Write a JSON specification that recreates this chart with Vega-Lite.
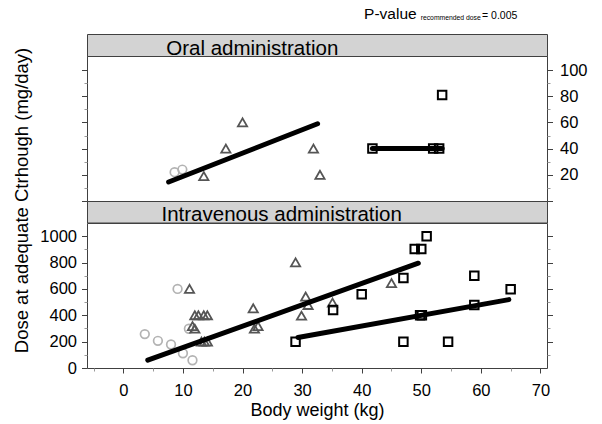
{
  "$schema": "https://vega.github.io/schema/vega-lite/v6.json",
  "padding": {"left": 11, "top": 6, "right": 5, "bottom": 5},
  "spacing": 0,
  "bounds": "flush",
  "config": {
    "font": "Liberation Sans",
    "view": {"stroke": "#404040"},
    "axis": {"grid": false, "domain": false, "labelFont": "Liberation Sans", "labelFontSize": 16.5, "labelColor": "#000", "tickColor": "#404040", "titleFont": "Liberation Sans", "titleFontWeight": "normal", "titleColor": "#000"},
    "text": {"font": "Liberation Sans", "color": "#000"}
  },
  "datasets": {
    "points": [
      {"route": "Oral", "group": "G1", "weight": 8.6, "dose": 22},
      {"route": "Oral", "group": "G1", "weight": 9.9, "dose": 24},
      {"route": "Oral", "group": "G2", "weight": 13.5, "dose": 19},
      {"route": "Oral", "group": "G2", "weight": 17.2, "dose": 40},
      {"route": "Oral", "group": "G2", "weight": 20.0, "dose": 60},
      {"route": "Oral", "group": "G2", "weight": 31.9, "dose": 40},
      {"route": "Oral", "group": "G2", "weight": 33.0, "dose": 20},
      {"route": "Oral", "group": "G3", "weight": 41.8, "dose": 40},
      {"route": "Oral", "group": "G3", "weight": 52.0, "dose": 40},
      {"route": "Oral", "group": "G3", "weight": 53.0, "dose": 40},
      {"route": "Oral", "group": "G3", "weight": 53.5, "dose": 81},
      {"route": "IV", "group": "G1", "weight": 3.6, "dose": 257},
      {"route": "IV", "group": "G1", "weight": 5.8, "dose": 206},
      {"route": "IV", "group": "G1", "weight": 8.0, "dose": 178},
      {"route": "IV", "group": "G1", "weight": 9.1, "dose": 600},
      {"route": "IV", "group": "G1", "weight": 10.0, "dose": 112},
      {"route": "IV", "group": "G1", "weight": 11.0, "dose": 298},
      {"route": "IV", "group": "G1", "weight": 11.6, "dose": 59},
      {"route": "IV", "group": "G2", "weight": 11.1, "dose": 600},
      {"route": "IV", "group": "G2", "weight": 11.6, "dose": 318},
      {"route": "IV", "group": "G2", "weight": 12.0, "dose": 298},
      {"route": "IV", "group": "G2", "weight": 12.0, "dose": 400},
      {"route": "IV", "group": "G2", "weight": 12.6, "dose": 400},
      {"route": "IV", "group": "G2", "weight": 13.5, "dose": 400},
      {"route": "IV", "group": "G2", "weight": 14.1, "dose": 400},
      {"route": "IV", "group": "G2", "weight": 13.1, "dose": 200},
      {"route": "IV", "group": "G2", "weight": 13.6, "dose": 200},
      {"route": "IV", "group": "G2", "weight": 14.1, "dose": 200},
      {"route": "IV", "group": "G2", "weight": 21.8, "dose": 453},
      {"route": "IV", "group": "G2", "weight": 22.0, "dose": 298},
      {"route": "IV", "group": "G2", "weight": 22.6, "dose": 318},
      {"route": "IV", "group": "G2", "weight": 28.9, "dose": 801},
      {"route": "IV", "group": "G2", "weight": 29.9, "dose": 397},
      {"route": "IV", "group": "G2", "weight": 30.6, "dose": 542},
      {"route": "IV", "group": "G2", "weight": 31.0, "dose": 478},
      {"route": "IV", "group": "G2", "weight": 35.1, "dose": 496},
      {"route": "IV", "group": "G2", "weight": 45.0, "dose": 644},
      {"route": "IV", "group": "G3", "weight": 28.9, "dose": 200},
      {"route": "IV", "group": "G3", "weight": 35.2, "dose": 440},
      {"route": "IV", "group": "G3", "weight": 40.0, "dose": 560},
      {"route": "IV", "group": "G3", "weight": 47.0, "dose": 682},
      {"route": "IV", "group": "G3", "weight": 47.0, "dose": 200},
      {"route": "IV", "group": "G3", "weight": 48.9, "dose": 903},
      {"route": "IV", "group": "G3", "weight": 50.0, "dose": 903},
      {"route": "IV", "group": "G3", "weight": 50.9, "dose": 1000},
      {"route": "IV", "group": "G3", "weight": 49.8, "dose": 400},
      {"route": "IV", "group": "G3", "weight": 50.1, "dose": 400},
      {"route": "IV", "group": "G3", "weight": 54.5, "dose": 200},
      {"route": "IV", "group": "G3", "weight": 58.9, "dose": 700},
      {"route": "IV", "group": "G3", "weight": 58.9, "dose": 478},
      {"route": "IV", "group": "G3", "weight": 65.0, "dose": 598}
    ],
    "fits": [
      {"route": "Oral", "fit": "G1-G2", "weight": 7.6, "dose": 14.5},
      {"route": "Oral", "fit": "G1-G2", "weight": 32.6, "dose": 59},
      {"route": "Oral", "fit": "G3", "weight": 41.8, "dose": 40},
      {"route": "Oral", "fit": "G3", "weight": 53.5, "dose": 40},
      {"route": "IV", "fit": "G1-G2", "weight": 4.1, "dose": 59},
      {"route": "IV", "fit": "G1-G2", "weight": 49.5, "dose": 795},
      {"route": "IV", "fit": "G3", "weight": 29.3, "dose": 232},
      {"route": "IV", "fit": "G3", "weight": 64.7, "dose": 519}
    ]
  },
  "vconcat": [
    {
      "width": 460, "height": 22,
      "view": {"fill": "#d3d3d3", "stroke": "#404040"},
      "data": {"values": [{"strip": "Oral administration"}]},
      "layer": [
        {"mark": {"type": "text", "align": "left", "baseline": "alphabetic", "fontSize": 20.5, "dy": 9.5},
         "encoding": {"x": {"datum": 7.2, "type": "quantitative", "scale": {"domain": [-6.1, 71.1], "nice": false, "zero": false}, "axis": null}, "text": {"field": "strip"}}},
        {"mark": {"type": "text", "align": "left", "baseline": "alphabetic", "fontSize": 15.5, "dy": -26},
         "encoding": {"x": {"datum": 40.4, "type": "quantitative"}, "text": {"value": "P-value"}}},
        {"mark": {"type": "text", "align": "left", "baseline": "alphabetic", "fontSize": 6.8, "dy": -25},
         "encoding": {"x": {"datum": 49.9, "type": "quantitative"}, "text": {"value": "recommended dose"}}},
        {"mark": {"type": "text", "align": "left", "baseline": "alphabetic", "fontSize": 10.5, "dy": -26},
         "encoding": {"x": {"datum": 60.2, "type": "quantitative"}, "text": {"value": "= 0.005"}}}
      ]
    },
    {
      "width": 460, "height": 145,
      "resolve": {"axis": {"x": "independent", "y": "independent"}},
      "layer": [
        {"data": {"name": "points"}, "transform": [{"filter": "datum.route === 'Oral' && datum.group === 'G1'"}],
         "mark": {"type": "point", "shape": "circle", "filled": false, "color": "#b3b3b3", "strokeWidth": 1.7, "size": 75, "opacity": 1},
         "encoding": {
           "x": {"field": "weight", "type": "quantitative", "scale": {"domain": [-6.1, 71.1], "nice": false, "zero": false}, "axis": null},
           "y": {"field": "dose", "type": "quantitative", "scale": {"domain": [0, 110.7], "nice": false, "zero": false}, "axis": {"orient": "left", "values": [0, 20, 40, 60, 80, 100], "labels": false, "tickSize": 5.5, "title": null}}}},
        {"data": {"name": "points"}, "transform": [{"filter": "datum.route === 'Oral' && datum.group === 'G2'"}],
         "mark": {"type": "point", "shape": "triangle-up", "filled": false, "color": "#555555", "strokeWidth": 1.8, "size": 85, "opacity": 1},
         "encoding": {
           "x": {"field": "weight", "type": "quantitative", "axis": null},
           "y": {"field": "dose", "type": "quantitative", "axis": {"orient": "left", "values": [10, 30, 50, 70, 90], "labels": false, "tickSize": 3, "tickColor": "#999999", "title": null}}}},
        {"data": {"name": "points"}, "transform": [{"filter": "datum.route === 'Oral' && datum.group === 'G3'"}],
         "mark": {"type": "point", "shape": "square", "filled": false, "color": "#000000", "strokeWidth": 2, "size": 72, "opacity": 1},
         "encoding": {
           "x": {"field": "weight", "type": "quantitative", "axis": null},
           "y": {"field": "dose", "type": "quantitative", "axis": {"orient": "right", "values": [0, 20, 40, 60, 80, 100], "labelExpr": "datum.value === 0 ? '' : datum.label", "tickSize": 5.5, "labelPadding": 7, "title": null}}}},
        {"data": {"name": "fits"}, "transform": [{"filter": "datum.route === 'Oral'"}],
         "mark": {"type": "line", "strokeWidth": 5, "strokeCap": "round", "color": "#000000"},
         "encoding": {
           "x": {"field": "weight", "type": "quantitative", "axis": null},
           "y": {"field": "dose", "type": "quantitative", "axis": {"orient": "right", "values": [10, 30, 50, 70, 90], "labels": false, "tickSize": 3, "tickColor": "#999999", "title": null}},
           "detail": {"field": "fit"}}}
      ]
    },
    {
      "width": 460, "height": 21.5,
      "view": {"fill": "#d3d3d3", "stroke": "#404040"},
      "data": {"values": [{"strip": "Intravenous administration"}]},
      "mark": {"type": "text", "align": "left", "baseline": "alphabetic", "fontSize": 20.5, "dy": 9.5},
      "encoding": {"x": {"datum": 6.4, "type": "quantitative", "scale": {"domain": [-6.1, 71.1], "nice": false, "zero": false}, "axis": null}, "text": {"field": "strip"}}
    },
    {
      "width": 460, "height": 145,
      "resolve": {"axis": {"x": "independent", "y": "independent"}},
      "layer": [
        {"data": {"name": "points"}, "transform": [{"filter": "datum.route === 'IV' && datum.group === 'G1'"}],
         "mark": {"type": "point", "shape": "circle", "filled": false, "color": "#b3b3b3", "strokeWidth": 1.7, "size": 75, "opacity": 1},
         "encoding": {
           "x": {"field": "weight", "type": "quantitative", "scale": {"domain": [-6.1, 71.1], "nice": false, "zero": false}, "axis": {"orient": "bottom", "values": [0, 10, 20, 30, 40, 50, 60, 70], "format": "d", "tickSize": 5, "labelPadding": 9, "title": "Body weight (kg)", "titleFontSize": 18, "titlePadding": 3}},
           "y": {"field": "dose", "type": "quantitative", "scale": {"domain": [0, 1100], "nice": false, "zero": false}, "axis": {"orient": "left", "values": [0, 200, 400, 600, 800, 1000], "format": "d", "tickSize": 5.5, "labelPadding": 5, "title": "Dose at adequate Ctrhough (mg/day)", "titleFontSize": 18.5, "titleAngle": -90, "titleAlign": "center", "titleBaseline": "alphabetic", "titleX": -60, "titleY": -23}}}},
        {"data": {"name": "points"}, "transform": [{"filter": "datum.route === 'IV' && datum.group === 'G2'"}],
         "mark": {"type": "point", "shape": "triangle-up", "filled": false, "color": "#555555", "strokeWidth": 1.8, "size": 85, "opacity": 1},
         "encoding": {
           "x": {"field": "weight", "type": "quantitative", "axis": {"orient": "bottom", "values": [-5, 5, 15, 25, 35, 45, 55, 65], "labels": false, "tickSize": 3, "tickColor": "#999999", "title": null}},
           "y": {"field": "dose", "type": "quantitative", "axis": {"orient": "left", "values": [100, 300, 500, 700, 900], "labels": false, "tickSize": 3, "tickColor": "#999999", "title": null}}}},
        {"data": {"name": "points"}, "transform": [{"filter": "datum.route === 'IV' && datum.group === 'G3'"}],
         "mark": {"type": "point", "shape": "square", "filled": false, "color": "#000000", "strokeWidth": 2, "size": 72, "opacity": 1},
         "encoding": {
           "x": {"field": "weight", "type": "quantitative", "axis": null},
           "y": {"field": "dose", "type": "quantitative", "axis": {"orient": "right", "values": [200, 400, 600, 800, 1000], "labels": false, "tickSize": 5.5, "title": null}}}},
        {"data": {"name": "fits"}, "transform": [{"filter": "datum.route === 'IV'"}],
         "mark": {"type": "line", "strokeWidth": 5, "strokeCap": "round", "color": "#000000"},
         "encoding": {
           "x": {"field": "weight", "type": "quantitative", "axis": null},
           "y": {"field": "dose", "type": "quantitative", "axis": {"orient": "right", "values": [100, 300, 500, 700, 900], "labels": false, "tickSize": 3, "tickColor": "#999999", "title": null}},
           "detail": {"field": "fit"}}}
      ]
    }
  ]
}
